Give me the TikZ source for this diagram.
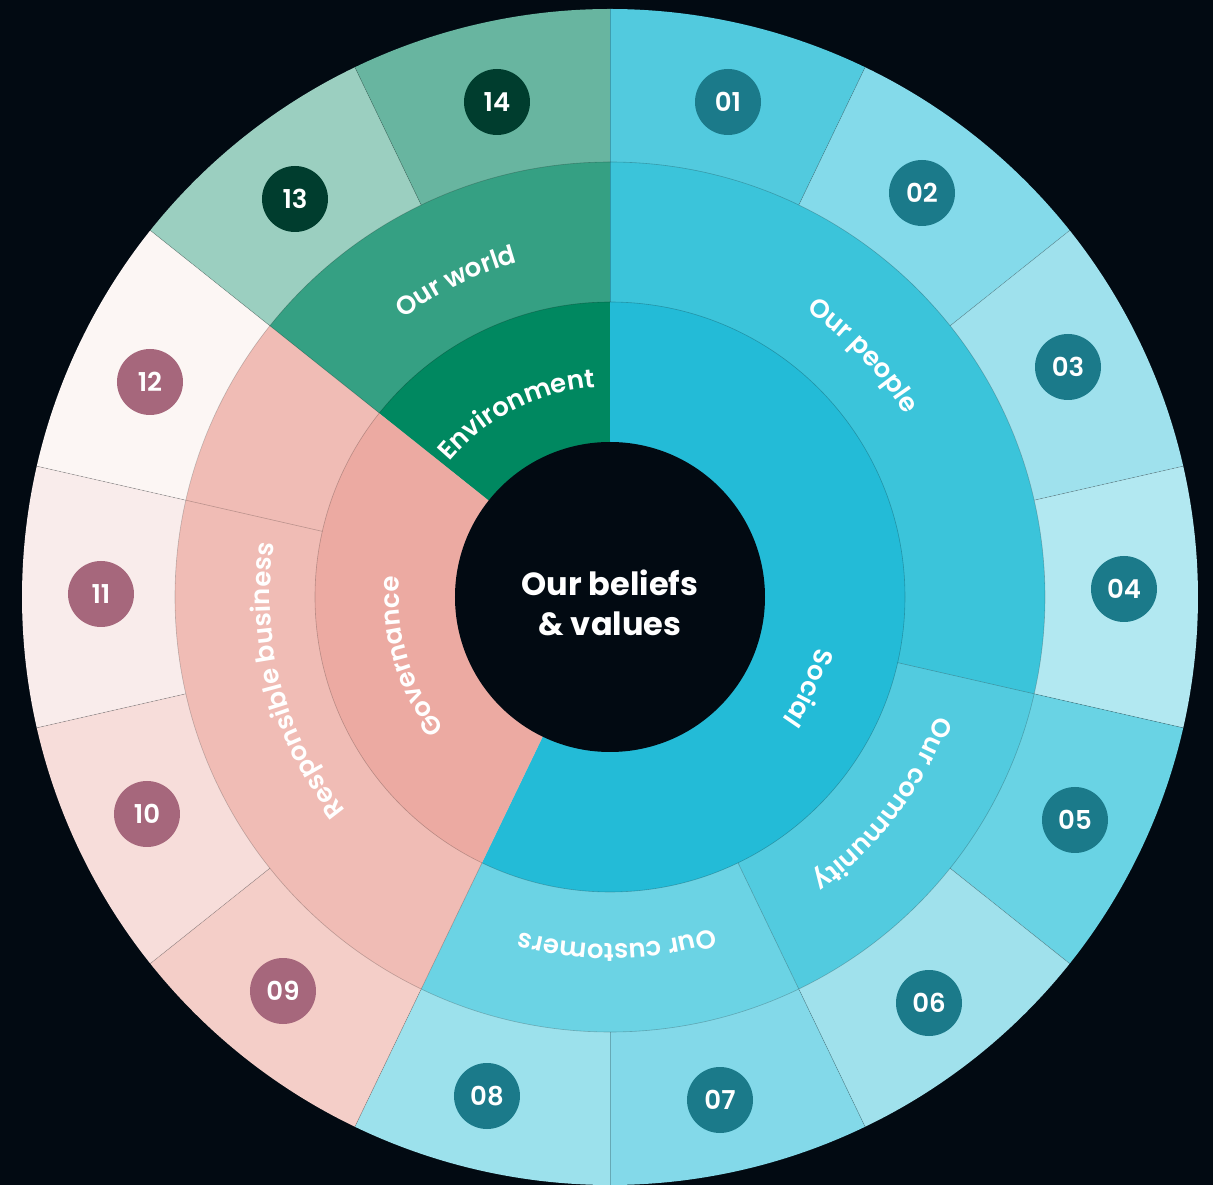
\documentclass[tikz,border=0pt]{standalone}
\usepackage{fontspec}
\setmainfont{Poppins}
\IfFontExistsTF{Poppins SemiBold}{\newfontfamily\semifont{Poppins SemiBold}}{\newcommand\semifont{\bfseries}}
\IfFontExistsTF{Poppins Medium}{\newfontfamily\medfont{Poppins Medium}}{\newcommand\medfont{\semifont}}
\usetikzlibrary{decorations.text}
\definecolor{bg}{HTML}{020A12}
\definecolor{c01}{HTML}{52CADE}
\definecolor{c02}{HTML}{84DAEA}
\definecolor{c03}{HTML}{9FE1ED}
\definecolor{c04}{HTML}{B2E8F1}
\definecolor{c05}{HTML}{69D3E4}
\definecolor{c06}{HTML}{A0E1EC}
\definecolor{c07}{HTML}{83D9E9}
\definecolor{c08}{HTML}{9CE1EC}
\definecolor{c09}{HTML}{F4CEC8}
\definecolor{c10}{HTML}{F7DDDA}
\definecolor{c11}{HTML}{F9ECEB}
\definecolor{c12}{HTML}{FCF6F4}
\definecolor{c13}{HTML}{9BCFC0}
\definecolor{c14}{HTML}{68B5A0}
\definecolor{mpeople}{HTML}{3BC4DA}
\definecolor{mcommunity}{HTML}{52CBDF}
\definecolor{mcustomers}{HTML}{6BD3E4}
\definecolor{mbusiness}{HTML}{F0BCB5}
\definecolor{mworld}{HTML}{35A083}
\definecolor{isocial}{HTML}{23BBD7}
\definecolor{igov}{HTML}{ECAAA2}
\definecolor{ienv}{HTML}{008860}
\definecolor{nteal}{HTML}{1B7A8A}
\definecolor{nmauve}{HTML}{A6677C}
\definecolor{ngreen}{HTML}{003D2E}
\newcommand\pieslice[4]{\fill[#1] (0,0) -- ({#2}:#4pt) arc[start angle={#2}, end angle={#3}, radius=#4pt] -- cycle;}
\newcommand\ringlabel[4]{%
  \path[decorate, decoration={text along path, text align=center, text color=white,
    text={|\semifont\fontsize{26}{26}\selectfont|#4}}]
    ({#1+#2}:#3pt) arc[start angle={#1+#2}, end angle={#1-#2}, radius=#3pt];}
\tikzset{
  divider/.style={draw=black, draw opacity=0.22, line width=0.6pt},
  num/.style={circle, minimum size=66pt, inner sep=0pt, text=white,
    font=\semifont\fontsize{26}{26}\selectfont},
  centertext/.style={text=white, inner sep=0pt, anchor=base,
    font=\bfseries\fontsize{32}{32}\selectfont},
}
\begin{document}
\begin{tikzpicture}[x=1pt,y=1pt]
\fill[bg] (-610,-588) rectangle (603,597);
\useasboundingbox (-610,-588) rectangle (603,597);
% outer ring
\foreach \c [count=\k from 0] in {c01,c02,c03,c04,c05,c06,c07,c08,c09,c10,c11,c12,c13,c14}{
  \pgfmathsetmacro\aa{90-\k*360/14}
  \pgfmathsetmacro\bb{90-(\k+1)*360/14}
  \pieslice{\c}{\aa}{\bb}{588}
}
% middle ring
\pieslice{mpeople}{90}{-12.857}{435}
\pieslice{mcommunity}{-12.857}{-64.286}{435}
\pieslice{mcustomers}{-64.286}{-115.714}{435}
\pieslice{mbusiness}{-115.714}{-218.571}{435}
\pieslice{mworld}{141.429}{90}{435}
% inner ring
\pieslice{isocial}{90}{-115.714}{295}
\pieslice{igov}{244.286}{141.429}{295}
\pieslice{ienv}{141.429}{90}{295}
% dividers
\foreach \k in {0,...,13}{
  \draw[divider] ({90-\k*360/14}:435pt) -- ({90-\k*360/14}:588pt);
}
\foreach \a in {90,-12.857,-64.286,-115.714,141.429,167.143}{
  \draw[divider] (\a:295pt) -- (\a:435pt);
}
\draw[divider] (0,0) circle[radius=435pt];
\draw[divider] (0,0) circle[radius=295pt];
% centre
\fill[bg] (0,0) circle[radius=155pt];
\node[centertext] (c1) at (0,1) {Our beliefs};
\node[centertext] (c2) at (0,-39) {\& values};
% ring labels
\ringlabel{116}{35}{347}{Our world}
\ringlabel{43.6}{35}{347}{Our people}
\ringlabel{-37.2}{35}{347}{Our community}
\ringlabel{-88.8}{35}{347}{Our customers}
\ringlabel{195}{35}{340}{Responsible business}
\ringlabel{117}{40}{210}{Environment}
\ringlabel{196.6}{40}{211}{Governance}
\ringlabel{-24.6}{40}{212}{Social}
% numbers
\node[num, fill=nteal] (n01) at (118,495) {01};
\node[num, fill=nteal] (n02) at (312,404) {02};
\node[num, fill=nteal] (n03) at (458,230) {03};
\node[num, fill=nteal] (n04) at (514,8) {04};
\node[num, fill=nteal] (n05) at (465,-223) {05};
\node[num, fill=nteal] (n06) at (319,-406) {06};
\node[num, fill=nteal] (n07) at (110,-503) {07};
\node[num, fill=nteal] (n08) at (-123,-499) {08};
\node[num, fill=nmauve] (n09) at (-327,-394) {09};
\node[num, fill=nmauve] (n10) at (-463,-217) {10};
\node[num, fill=nmauve] (n11) at (-509,3) {11};
\node[num, fill=nmauve] (n12) at (-460,215) {12};
\node[num, fill=ngreen] (n13) at (-315,398) {13};
\node[num, fill=ngreen] (n14) at (-113,495) {14};
\end{tikzpicture}
\end{document}
